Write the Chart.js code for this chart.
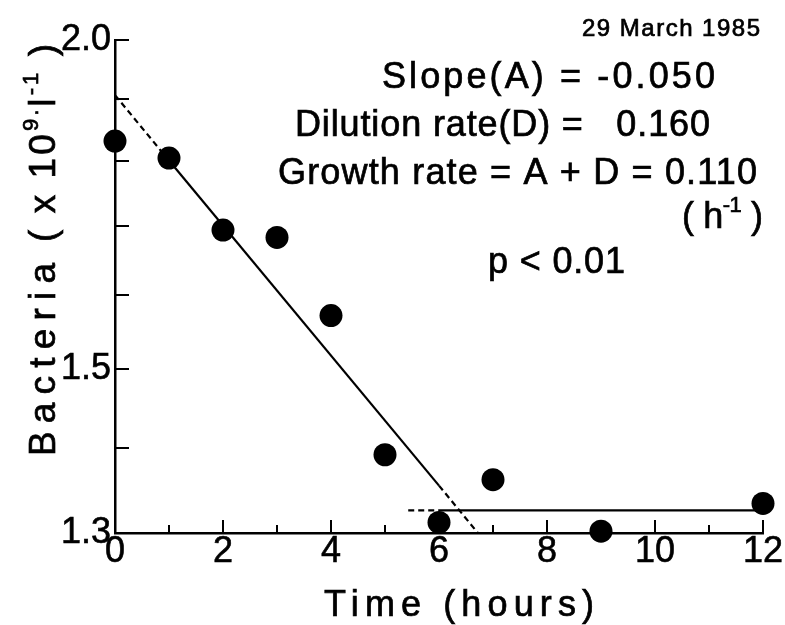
<!DOCTYPE html>
<html>
<head>
<meta charset="utf-8">
<script src="https://cdn.jsdelivr.net/npm/chart.js@4/dist/chart.umd.min.js"></script>
<style>
  html, body { margin: 0; padding: 0; background: #fff; }
  #wrap { width: 785px; height: 625px; }
</style>
</head>
<body>
<div id="wrap"><canvas id="bacteriaChart" width="785" height="625"></canvas></div>
<script>
// measured counts, 29 March 1985
const hours = [0, 1, 2, 3, 4, 5, 6, 7, 9, 12];
const bacteria = [1.831, 1.804, 1.694, 1.683, 1.572, 1.392, 1.312, 1.362, 1.302, 1.334];

// regression through the falling part (dashed where extended)
const fitTimes = [0, 1, 6, 6.72];
const fitValues = [1.906, 1.80, 1.355, 1.30];

// mean level of the later samples
const plateauTimes = [5.43, 6, 12];
const plateauValues = [1.326, 1.326, 1.326];

const xTicks = [0, 1, 2, 3, 4, 5, 6, 7, 8, 9, 10, 11, 12];
const xLabels = [0, 2, 4, 6, 8, 10, 12];
const yTicks = [1.3, 1.4, 1.5, 1.6, 1.7, 1.8, 1.9, 2.0];
const yLabels = [1.3, 1.5, 2.0];

const FONT = '"Liberation Sans", Arial, sans-serif';

const toPoints = (xs, ys) => xs.map((x, i) => ({ x: x, y: ys[i] }));

// draw a row of text runs (sup = superscript) spread out to a given width
function spreadRuns(ctx, runs, x, y, size, width) {
  const supSize = Math.round(size * 0.6);
  const fontFor = r => (r.sup ? supSize : size) + 'px ' + FONT;
  ctx.letterSpacing = '0px';
  let natural = 0, count = 0;
  runs.forEach(r => {
    ctx.font = fontFor(r);
    natural += ctx.measureText(r.t).width;
    count += [...r.t].length;
  });
  const gap = count > 1 ? (width - natural) / (count - 1) : 0;
  ctx.letterSpacing = gap.toFixed(2) + 'px';
  let cx = x;
  runs.forEach(r => {
    ctx.font = fontFor(r);
    const ty = r.sup ? y - size * 0.45 : y;
    ctx.fillText(r.t, cx, ty);
    ctx.strokeText(r.t, cx, ty);
    cx += ctx.measureText(r.t).width;
  });
  ctx.letterSpacing = '0px';
}

const notes = [
  { runs: [{ t: '29 March 1985' }], x: 582, y: 36, size: 24, w: 178 },
  { runs: [{ t: 'Slope(A) = -0.050' }], x: 382, y: 88, size: 36, w: 333 },
  { runs: [{ t: 'Dilution rate(D) =   0.160' }], x: 295, y: 136, size: 36, w: 415 },
  { runs: [{ t: 'Growth rate = A + D = 0.110' }], x: 278, y: 184, size: 36, w: 479 },
  { runs: [{ t: '( h' }, { t: '-1', sup: true }, { t: ' )' }], x: 682, y: 228, size: 36, w: 81 },
  { runs: [{ t: 'p < 0.01' }], x: 488, y: 273, size: 36, w: 137 }
];

const textLayer = {
  id: 'textLayer',
  afterDraw(chart) {
    const ctx = chart.ctx;
    ctx.save();
    ctx.fillStyle = '#000';
    ctx.strokeStyle = '#000';
    ctx.lineWidth = 0.7;
    ctx.textAlign = 'left';
    ctx.textBaseline = 'alphabetic';
    notes.forEach(n => spreadRuns(ctx, n.runs, n.x, n.y, n.size, n.w));

    // axis titles
    spreadRuns(ctx, [{ t: 'Time (hours)' }], 324, 616, 36, 270);
    ctx.translate(55, 456);
    ctx.rotate(-Math.PI / 2);
    spreadRuns(ctx, [{ t: 'Bacteria' }], 0, 0, 37, 193);
    spreadRuns(ctx, [
      { t: '( x 10' }, { t: '9.', sup: true },
      { t: 'l' }, { t: '-1', sup: true }, { t: ' )' }
    ], 214, 0, 37, 198);
    ctx.restore();
  }
};

// tick marks pointing into the plot
const inwardTicks = {
  id: 'inwardTicks',
  beforeDatasetsDraw(chart) {
    const { ctx, chartArea, scales } = chart;
    ctx.save();
    ctx.strokeStyle = '#000';
    ctx.lineWidth = 2;
    ctx.beginPath();
    yTicks.forEach(v => {
      const py = Math.round(scales.y.getPixelForValue(v));
      ctx.moveTo(chartArea.left, py);
      ctx.lineTo(chartArea.left + 14, py);
    });
    xTicks.forEach(v => {
      if (v === 0) return;
      const px = Math.round(scales.x.getPixelForValue(v));
      ctx.moveTo(px, chartArea.bottom);
      ctx.lineTo(px, chartArea.bottom - (v % 2 === 0 ? 13 : 8));
    });
    ctx.stroke();
    ctx.restore();
  }
};

const dashEnds = (first, last) => ctx =>
  (ctx.p0DataIndex === first || ctx.p0DataIndex === last) ? [6, 4] : undefined;

const tickFont = { family: FONT, size: 36, lineHeight: 1 };

new Chart(document.getElementById('bacteriaChart'), {
  type: 'scatter',
  data: {
    datasets: [
      {
        label: 'Bacteria',
        data: toPoints(hours, bacteria),
        pointRadius: 11.5,
        pointBackgroundColor: '#000',
        pointBorderWidth: 0,
        showLine: false,
        clip: false
      },
      {
        label: 'Regression',
        data: toPoints(fitTimes, fitValues),
        showLine: true,
        pointRadius: 0,
        borderColor: '#000',
        borderWidth: 2.2,
        segment: { borderDash: dashEnds(0, 2) },
        clip: false
      },
      {
        label: 'Mean',
        data: toPoints(plateauTimes, plateauValues),
        showLine: true,
        pointRadius: 0,
        borderColor: '#000',
        borderWidth: 2.2,
        segment: { borderDash: dashEnds(0, -1) },
        clip: false
      }
    ]
  },
  options: {
    responsive: false,
    animation: false,
    layout: { padding: { top: 40, right: 22, left: 0, bottom: 0 } },
    plugins: {
      legend: { display: false },
      tooltip: { enabled: false }
    },
    scales: {
      x: {
        type: 'linear',
        min: 0,
        max: 12,
        afterFit: s => { s.height = 92; },
        afterBuildTicks: s => { s.ticks = xTicks.map(v => ({ value: v })); },
        grid: { display: false, drawTicks: false },
        border: { display: true, color: '#000', width: 2.5 },
        ticks: {
          autoSkip: false,
          maxRotation: 0,
          padding: 1,
          color: '#000',
          textStrokeColor: '#000',
          textStrokeWidth: 0.6,
          font: tickFont,
          callback: v => xLabels.includes(v) ? String(v) : ''
        }
      },
      y: {
        type: 'logarithmic',
        min: 1.3,
        max: 2.0,
        afterFit: s => { s.width = 115; },
        afterBuildTicks: s => { s.ticks = yTicks.map(v => ({ value: v })); },
        grid: { display: false, drawTicks: false },
        border: { display: true, color: '#000', width: 2.5 },
        ticks: {
          autoSkip: false,
          padding: 4,
          color: '#000',
          textStrokeColor: '#000',
          textStrokeWidth: 0.6,
          font: tickFont,
          callback: v => yLabels.some(l => Math.abs(l - v) < 1e-6) ? v.toFixed(1) : ''
        }
      }
    }
  },
  plugins: [inwardTicks, textLayer]
});
</script>
</body>
</html>
